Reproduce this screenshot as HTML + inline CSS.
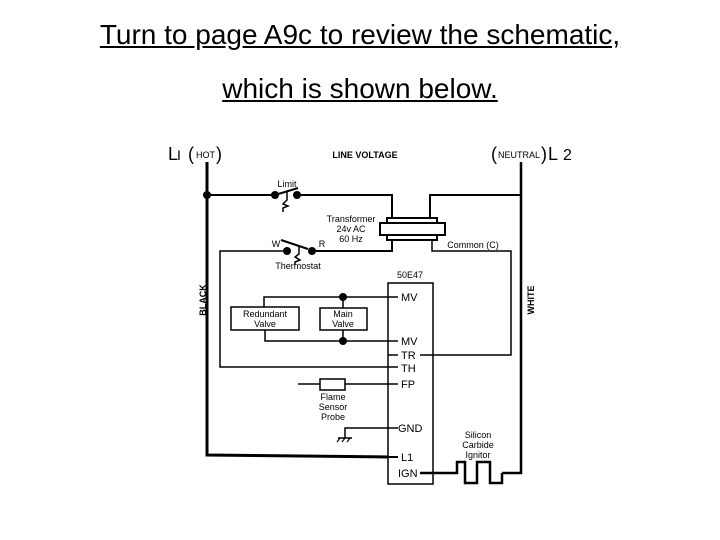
<!DOCTYPE html>
<html><head><meta charset="utf-8"><style>
body{margin:0;background:#fff;width:720px;height:540px;overflow:hidden}
.t{position:absolute;left:0;width:720px;text-align:center;font-family:"Liberation Sans",sans-serif;font-size:28px;line-height:32px;color:#000}
</style></head><body>
<div class="t" style="top:19px"><span style="text-decoration:underline">Turn to page A9c to review the schematic,</span></div>
<div class="t" style="top:73px"><span style="text-decoration:underline">which is shown below.</span></div>
<svg width="720" height="540" style="position:absolute;left:0;top:0" font-family="Liberation Sans,sans-serif">
<g stroke="#000" fill="none" stroke-width="2">
<polyline points="207,162 207,455 388,457" stroke-width="3"/>
<polyline points="207,195 275,195"/>
<polyline points="297,195 392,195 392,218"/>
<polyline points="521,162 521,473 502,473" stroke-width="2.5"/>
<polyline points="521,195 430,195 430,218"/>
<rect x="387" y="218" width="50" height="22"/>
<rect x="380" y="223" width="65" height="12" fill="#fff"/>
<polyline points="392,240 392,251 312,251"/>
<polyline points="287,251 220,251 220,367 388,367" stroke-width="1.5"/>
<polyline points="432,240 432,251 511,251 511,355 420,355" stroke-width="1.5"/>
<line x1="275" y1="195" x2="298" y2="188"/>
<polyline points="287,192 287,200 283,204 288,206 283,208 283,212" stroke-width="1.5"/>
<line x1="281" y1="240" x2="308" y2="249"/>
<polyline points="299,246 299,254 295,257 300,260 295,262 295,265" stroke-width="1.5"/>
<rect x="388" y="283" width="45" height="201" stroke-width="1.5"/>
<polyline points="264,307 264,297 398,297" stroke-width="1.5"/>
<line x1="343" y1="297" x2="343" y2="308" stroke-width="1.5"/>
<rect x="231" y="307" width="68" height="23" stroke-width="1.5"/>
<rect x="320" y="308" width="47" height="22" stroke-width="1.5"/>
<polyline points="265,330 265,341 398,341" stroke-width="1.5"/>
<line x1="343" y1="330" x2="343" y2="341" stroke-width="1.5"/>
<line x1="388" y1="355" x2="398" y2="355" stroke-width="1.5"/>
<line x1="388" y1="367" x2="398" y2="367" stroke-width="1.5"/>
<line x1="298" y1="384" x2="320" y2="384" stroke-width="1.5"/>
<rect x="320" y="379" width="25" height="11" stroke-width="1.5"/>
<line x1="345" y1="384" x2="398" y2="384" stroke-width="1.5"/>
<polyline points="345,438 345,428 398,428" stroke-width="1.5"/>
<line x1="338" y1="438" x2="352" y2="438" stroke-width="1.5"/>
<line x1="340" y1="438" x2="337" y2="442" stroke-width="1.2"/>
<line x1="345" y1="438" x2="342" y2="442" stroke-width="1.2"/>
<line x1="350" y1="438" x2="347" y2="442" stroke-width="1.2"/>
<line x1="388" y1="457" x2="398" y2="457"/>
<polyline points="420,473 457,473 457,462 465,462 465,483 477,483 477,462 490,462 490,483 502,483 502,473" stroke-width="2.5"/>
</g>
<g fill="#000">
<circle cx="207" cy="195" r="4"/><circle cx="275" cy="195" r="4"/><circle cx="297" cy="195" r="4"/>
<circle cx="287" cy="251" r="4"/><circle cx="312" cy="251" r="4"/>
<circle cx="343" cy="297" r="4"/><circle cx="343" cy="341" r="4"/>
</g>
<g font-size="9" text-anchor="middle">
<text x="365" y="158" font-weight="bold">LINE VOLTAGE</text>
<text x="287" y="187">Limit</text>
<text x="351" y="222">Transformer</text>
<text x="351" y="232">24v AC</text>
<text x="351" y="242">60 Hz</text>
<text x="473" y="248">Common (C)</text>
<text x="276" y="247">W</text><text x="322" y="247">R</text>
<text x="298" y="269">Thermostat</text>
<text x="410" y="278">50E47</text>
<text x="265" y="317">Redundant</text><text x="265" y="327">Valve</text>
<text x="343" y="317">Main</text><text x="343" y="327">Valve</text>
<text x="333" y="400">Flame</text><text x="333" y="410">Sensor</text><text x="333" y="420">Probe</text>
<text x="478" y="438">Silicon</text><text x="478" y="448">Carbide</text><text x="478" y="458">Ignitor</text>
<text transform="translate(206,300) rotate(-90)" font-weight="bold">BLACK</text>
<text transform="translate(534,300) rotate(-90)" font-weight="bold">WHITE</text>
</g>
<g font-size="11">
<text x="401" y="301">MV</text><text x="401" y="345">MV</text><text x="401" y="359">TR</text>
<text x="401" y="372">TH</text><text x="401" y="388">FP</text><text x="398" y="432">GND</text>
<text x="401" y="461">L1</text><text x="398" y="477">IGN</text>
</g>
<text x="168" y="160" font-size="18">L</text><text x="177" y="160" font-size="14">I</text>
<text x="188" y="160" font-size="18">(</text><text x="196" y="158" font-size="9">HOT</text><text x="216" y="160" font-size="18">)</text>
<text x="491" y="160" font-size="18">(</text><text x="498" y="158" font-size="9">NEUTRAL</text><text x="541" y="160" font-size="18">)</text>
<text x="548" y="160" font-size="18">L</text><text x="563" y="160" font-size="16">2</text>
</svg>
</body></html>
